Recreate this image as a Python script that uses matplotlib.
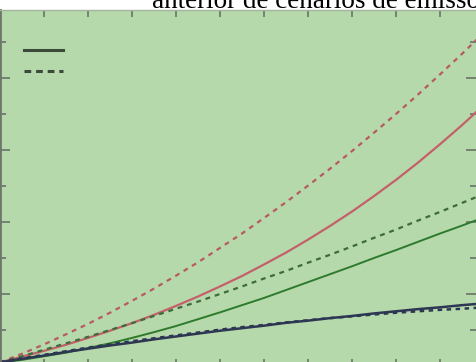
import numpy as np
import matplotlib.pyplot as plt
from matplotlib.lines import Line2D
from matplotlib.ticker import MultipleLocator

# Years and scenario series
years = [2000, 2005, 2010, 2015, 2020, 2025, 2030, 2035, 2040, 2045, 2050, 2055,
         2060, 2065, 2070, 2075, 2080, 2085, 2090, 2095, 2100, 2105, 2110]

red_dashed = [0.10, 0.34, 0.60, 0.88, 1.17, 1.48, 1.81, 2.15, 2.51, 2.88, 3.28, 3.68,
              4.11, 4.55, 5.01, 5.48, 5.97, 6.48, 7.00, 7.54, 8.10, 8.67, 9.26]
red_solid = [0.10, 0.26, 0.42, 0.59, 0.78, 0.98, 1.19, 1.42, 1.67, 1.93, 2.21, 2.50,
             2.82, 3.15, 3.51, 3.89, 4.29, 4.72, 5.17, 5.65, 6.16, 6.69, 7.25]
green_dashed = [0.10, 0.27, 0.45, 0.63, 0.81, 1.00, 1.19, 1.39, 1.59, 1.79, 2.00, 2.21,
                2.43, 2.64, 2.87, 3.09, 3.32, 3.56, 3.79, 4.04, 4.28, 4.53, 4.78]
green_solid = [0.10, 0.17, 0.27, 0.37, 0.50, 0.63, 0.78, 0.94, 1.11, 1.30, 1.49, 1.69,
               1.89, 2.11, 2.33, 2.55, 2.77, 3.00, 3.22, 3.45, 3.68, 3.90, 4.13]
blue_solid = [0.10, 0.20, 0.29, 0.39, 0.48, 0.57, 0.65, 0.74, 0.82, 0.90, 0.98, 1.05,
              1.12, 1.20, 1.26, 1.33, 1.39, 1.46, 1.52, 1.58, 1.63, 1.69, 1.74]
blue_dashed = [0.10, 0.21, 0.31, 0.41, 0.51, 0.60, 0.69, 0.77, 0.85, 0.93, 1.01, 1.08,
               1.14, 1.21, 1.27, 1.33, 1.38, 1.43, 1.48, 1.52, 1.56, 1.59, 1.63]

bg = '#b6d9ab'
tick_col = '#6b746a'

fig = plt.figure(figsize=(4.76, 3.62), dpi=100)
fig.patch.set_facecolor('white')
ax = fig.add_axes([0, -4 / 362, 1, 356 / 362])
ax.set_facecolor(bg)

ax.plot(years, red_dashed, color='#b85a63', lw=1.6, dashes=(2.2, 2.2))
ax.plot(years, red_solid, color='#c4606a', lw=1.6)
ax.plot(years, green_dashed, color='#3d6b3b', lw=1.6, dashes=(2.2, 2.2))
ax.plot(years, green_solid, color='#2e7a2c', lw=1.4)
ax.plot(years, blue_solid, color='#2d3652', lw=1.8)
ax.plot(years, blue_dashed, color='#2d3652', lw=1.8, dashes=(1.8, 1.8))

ax.set_xlim(2000, 2000 + 476 / 4.4)
ax.set_ylim(0, 356 / 36)

# ticks only, no labels
ax.xaxis.set_major_locator(MultipleLocator(10))
ax.yaxis.set_major_locator(MultipleLocator(2))
ax.yaxis.set_minor_locator(MultipleLocator(1))
ax.tick_params(axis='both', which='both', direction='in', colors=tick_col,
               labelbottom=False, labelleft=False, top=True, right=True, width=1.2)
ax.tick_params(axis='x', which='major', length=5)
ax.tick_params(axis='y', which='major', length=7)
ax.tick_params(axis='y', which='minor', length=4)

for side in ['right', 'bottom']:
    ax.spines[side].set_visible(False)
ax.spines['left'].set_color('#6f776d')
ax.spines['left'].set_linewidth(2)
ax.spines['top'].set_color('#a4b39e')
ax.spines['top'].set_linewidth(1)

handles = [Line2D([], [], color='#3b4a3b', lw=2.2),
           Line2D([], [], color='#3b4a3b', lw=2.2, dashes=(2.2, 1.6))]
ax.legend(handles, [' ', ' '], loc='upper left', bbox_to_anchor=(0.05, 0.905),
          frameon=False, handlelength=2.85, handletextpad=0, borderpad=0,
          borderaxespad=0, labelspacing=0.5, fontsize=10)

fig.text(152 / 476, 1 - 8 / 362, 'anterior de cenários de emissões',
         family='Liberation Serif', fontsize=19.5, color='black',
         ha='left', va='baseline')

fig.savefig('out.png', dpi=100, facecolor='white')
